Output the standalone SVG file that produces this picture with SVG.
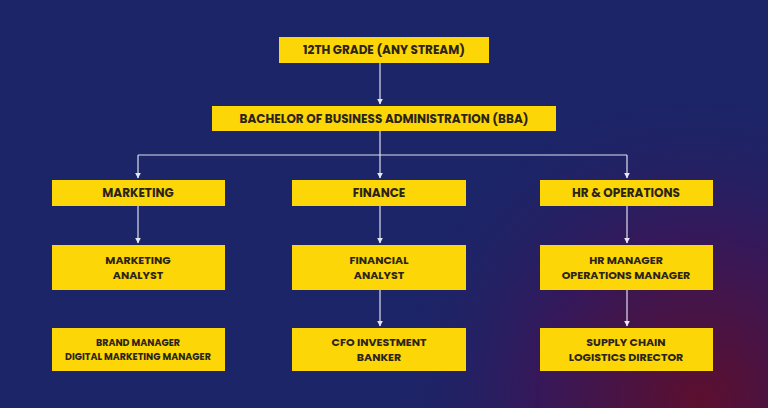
<svg xmlns="http://www.w3.org/2000/svg" width="768" height="408" viewBox="0 0 768 408">
<defs>
<radialGradient id="bg" cx="700" cy="400" r="330" gradientUnits="userSpaceOnUse">
<stop offset="0" stop-color="#5c0f2e"/><stop offset="0.5" stop-color="#35185a"/><stop offset="1" stop-color="#1b2568" stop-opacity="0"/>
</radialGradient>
<marker id="ah" viewBox="0 0 10 10" refX="9" refY="5" markerWidth="5" markerHeight="5" orient="auto"><path d="M0,0L10,5L0,10z" fill="#e8e8f5"/></marker>
<style>
.b{fill:#fcd607}
.t{font-family:"Poppins","Liberation Sans",Arial,sans-serif;font-weight:bold;font-size:12px;fill:#2b2418;text-anchor:middle}
.m{font-size:11px}
.s{font-size:9.5px}
.c{stroke:#e0e0f0;stroke-width:1.2;fill:none}
</style>
</defs>
<rect width="768" height="408" fill="#1b2568"/>
<rect width="768" height="408" fill="url(#bg)"/>
<g id="connectors">
<path class="c" d="M380,63V104" marker-end="url(#ah)"/>
<path class="c" d="M380,131V155M138,155H627"/>
<path class="c" d="M138,155V178" marker-end="url(#ah)"/>
<path class="c" d="M380,155V178" marker-end="url(#ah)"/>
<path class="c" d="M627,155V178" marker-end="url(#ah)"/>
<path class="c" d="M138,206V243" marker-end="url(#ah)"/>
<path class="c" d="M380,206V243" marker-end="url(#ah)"/>
<path class="c" d="M627,206V243" marker-end="url(#ah)"/>
<path class="c" d="M380,290V326" marker-end="url(#ah)"/>
<path class="c" d="M627,290V326" marker-end="url(#ah)"/>
</g>
<g id="n1"><rect class="b" x="279" y="37" width="210" height="26"/><text class="t" x="384" y="54">12TH GRADE (ANY STREAM)</text></g>
<g id="n2"><rect class="b" x="212" y="106" width="344" height="25"/><text class="t" x="384" y="123">BACHELOR OF BUSINESS ADMINISTRATION (BBA)</text></g>
<g id="n3"><rect class="b" x="52" y="180" width="173" height="26"/><text class="t" x="138" y="197">MARKETING</text></g>
<g id="n4"><rect class="b" x="292" y="180" width="174" height="26"/><text class="t" x="379" y="197">FINANCE</text></g>
<g id="n5"><rect class="b" x="540" y="180" width="173" height="26"/><text class="t" x="626" y="197">HR &amp; OPERATIONS</text></g>
<g id="n6"><rect class="b" x="52" y="245" width="173" height="45"/><text class="t m" x="138" y="264">MARKETING</text><text class="t m" x="138" y="279">ANALYST</text></g>
<g id="n7"><rect class="b" x="292" y="245" width="174" height="45"/><text class="t m" x="379" y="264">FINANCIAL</text><text class="t m" x="379" y="279">ANALYST</text></g>
<g id="n8"><rect class="b" x="540" y="245" width="173" height="45"/><text class="t m" x="626" y="264">HR MANAGER</text><text class="t m" x="626" y="279">OPERATIONS MANAGER</text></g>
<g id="n9"><rect class="b" x="52" y="328" width="173" height="43"/><text class="t s" x="138" y="346">BRAND MANAGER</text><text class="t s" x="138" y="360">DIGITAL MARKETING MANAGER</text></g>
<g id="n10"><rect class="b" x="292" y="328" width="174" height="43"/><text class="t m" x="379" y="346">CFO INVESTMENT</text><text class="t m" x="379" y="361">BANKER</text></g>
<g id="n11"><rect class="b" x="540" y="328" width="173" height="43"/><text class="t m" x="626" y="346">SUPPLY CHAIN</text><text class="t m" x="626" y="361">LOGISTICS DIRECTOR</text></g>
</svg>
